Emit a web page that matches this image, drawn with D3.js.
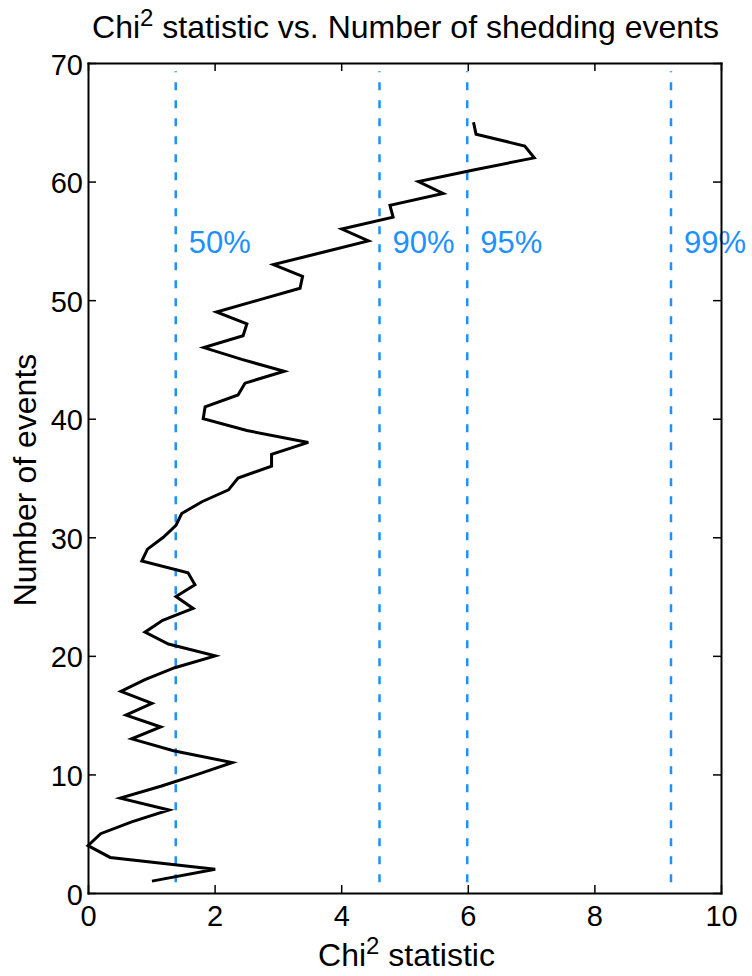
<!DOCTYPE html>
<html>
<head>
<meta charset="utf-8">
<script src="https://cdn.jsdelivr.net/npm/d3@7"></script>
<style>
  body { margin: 0; background: #fff; }
  text { font-family: "Liberation Sans", Arial, Helvetica, sans-serif; }
</style>
</head>
<body>
<svg id="chart" width="752" height="976"></svg>
<script>
// ---- data ----
const eventCounts = [1,2,3,4,5,6,7,8,9,10,11,12,13,14,15,16,17,18,19,20,
  21,22,23,24,25,26,27,28,29,30,31,32,33,34,35,36,37,38,39,40,
  41,42,43,44,45,46,47,48,49,50,51,52,53,54,55,56,57,58,59,60,
  61,62,63,64,65];
const chiValues = [1.01,2.01,0.35,0.00,0.20,0.69,1.28,0.51,1.15,1.73,
  2.28,1.35,0.69,1.15,0.60,1.01,0.52,0.90,1.37,2.01,
  1.27,0.90,1.18,1.66,1.39,1.69,1.58,0.85,0.94,1.19,
  1.39,1.48,1.80,2.22,2.37,2.90,2.90,3.48,2.51,1.82,
  1.85,2.37,2.48,3.10,2.43,1.83,2.45,2.51,2.03,2.69,
  3.35,3.39,2.93,3.68,4.43,4.01,4.82,4.77,5.61,5.22,
  6.11,7.05,6.90,6.13,6.09];
const thresholdValues = [1.386, 4.605, 5.991, 9.210];
const thresholdLabels = ["50%", "90%", "95%", "99%"];
const thresholdSpan = [0.9, 69.3];
const labelYValue = 54;
const xTicks = [0, 2, 4, 6, 8, 10];
const yTicks = [0, 10, 20, 30, 40, 50, 60, 70];
const xDomain = [0, 10];
const yDomain = [0, 70];

// ---- layout ----
const L = 88, R = 721, T = 63, B = 893;
const blue = "#1E90FF";
const svg = d3.select("#chart");
const x = d3.scaleLinear().domain(xDomain).range([L, R]);
const y = d3.scaleLinear().domain(yDomain).range([B, T]);

// threshold dashed lines
svg.append("g").selectAll("line").data(thresholdValues).join("line")
  .attr("x1", d => x(d)).attr("x2", d => x(d))
  .attr("y1", y(thresholdSpan[0])).attr("y2", y(thresholdSpan[1]))
  .attr("stroke", blue).attr("stroke-width", 2.5)
  .attr("stroke-dasharray", "8,10");

// threshold labels
svg.append("g").selectAll("text").data(thresholdValues).join("text")
  .attr("x", d => x(d) + 13)
  .attr("y", y(labelYValue))
  .attr("font-size", 31)
  .attr("fill", blue)
  .text((d, i) => thresholdLabels[i]);

// data line
const pts = eventCounts.map((e, i) => [chiValues[i], e]);
svg.append("path").datum(pts)
  .attr("fill", "none").attr("stroke", "#000").attr("stroke-width", 3)
  .attr("stroke-linejoin", "miter")
  .attr("d", d3.line().x(d => x(d[0])).y(d => y(d[1])));

// axes (ticks inward, box)
function styleAxis(g) {
  g.selectAll("path.domain").attr("stroke", "#000").attr("stroke-width", 2);
  g.selectAll(".tick line").attr("stroke", "#000").attr("stroke-width", 1.5);
}
const gx = svg.append("g").attr("transform", `translate(0,${B})`)
  .call(d3.axisBottom(x).tickValues(xTicks).tickSize(-8).tickSizeOuter(0).tickFormat(d3.format("d")));
gx.selectAll("text").attr("y", 33).attr("dy", null)
  .attr("font-size", 29).attr("fill", "#000");
styleAxis(gx);

const gy = svg.append("g").attr("transform", `translate(${L},0)`)
  .call(d3.axisLeft(y).tickValues(yTicks).tickSize(-8).tickSizeOuter(0).tickFormat(d3.format("d")));
gy.selectAll("text").attr("x", -5).attr("dy", null).attr("y", 11)
  .attr("font-size", 29).attr("fill", "#000");
styleAxis(gy);

const gt = svg.append("g").attr("transform", `translate(0,${T})`)
  .call(d3.axisTop(x).tickValues(xTicks).tickSize(-8).tickSizeOuter(0).tickFormat(""));
styleAxis(gt);

const gr = svg.append("g").attr("transform", `translate(${R},0)`)
  .call(d3.axisRight(y).tickValues(yTicks).tickSize(-8).tickSizeOuter(0).tickFormat(""));
styleAxis(gr);
svg.selectAll(".domain").attr("stroke-linecap", "square");

// title
const title = svg.append("text")
  .attr("x", (L + R) / 2 + 1).attr("y", 38)
  .attr("text-anchor", "middle").attr("font-size", 32).attr("fill", "#000");
title.append("tspan").text("Chi");
title.append("tspan").attr("font-size", 24).attr("dy", -12).text("2");
title.append("tspan").attr("dy", 12).text(" statistic vs. Number of shedding events");

// x label
const xl = svg.append("text")
  .attr("x", (L + R) / 2 + 2).attr("y", 966)
  .attr("text-anchor", "middle").attr("font-size", 32).attr("fill", "#000");
xl.append("tspan").text("Chi");
xl.append("tspan").attr("font-size", 24).attr("dy", -12).text("2");
xl.append("tspan").attr("dy", 12).text(" statistic");

// y label
svg.append("text")
  .attr("transform", `translate(36,${(T + B) / 2 + 2}) rotate(-90)`)
  .attr("text-anchor", "middle").attr("font-size", 32).attr("fill", "#000")
  .text("Number of events");
</script>
</body>
</html>
